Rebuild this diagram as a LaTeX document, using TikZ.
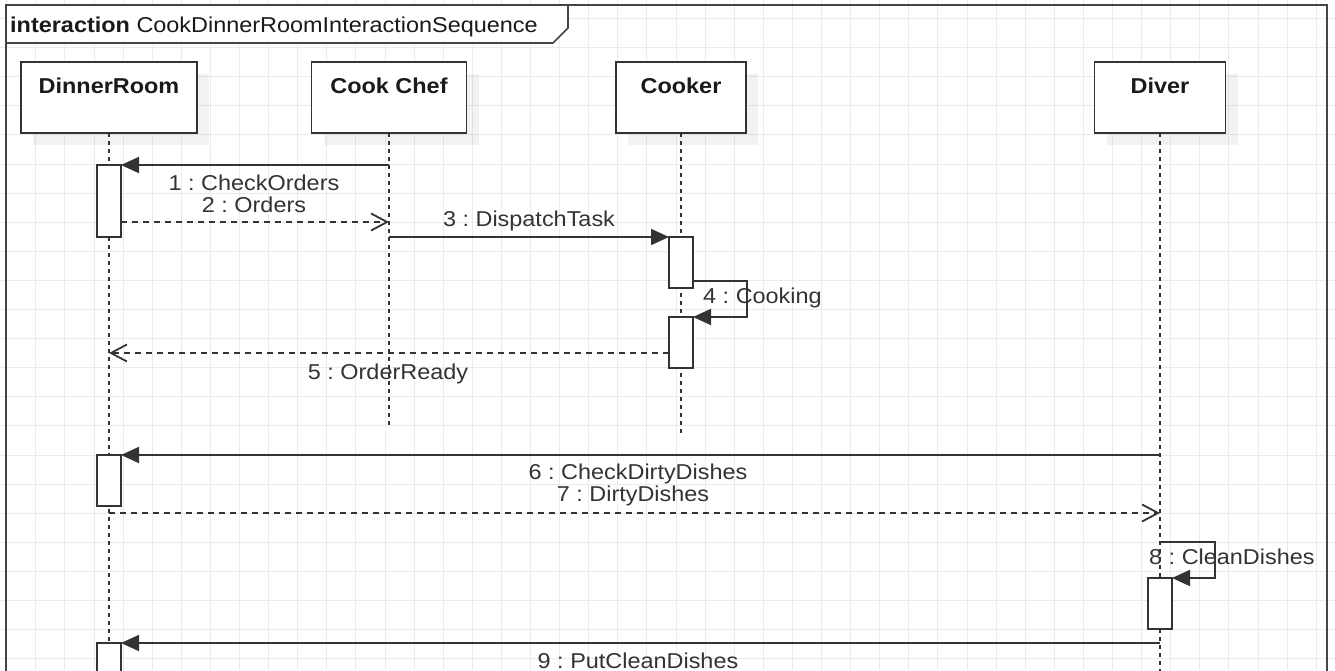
\documentclass[tikz,border=0pt]{standalone}
\usepackage{fontspec}
\setmainfont{Liberation Sans}[FakeStretch=1.09]
\usetikzlibrary{arrows.meta,shadows}
\frenchspacing
\definecolor{ln}{HTML}{333333}
\definecolor{gridc}{HTML}{EBEBEB}
\definecolor{frm}{HTML}{444444}
\definecolor{txt}{HTML}{333333}
\definecolor{htxt}{HTML}{1A1A1A}
\begin{document}
\begin{tikzpicture}[x=1pt,y=-1pt,
  headbox/.style={draw=ln, line width=1.8pt, fill=white, minimum width=#1, minimum height=71pt, inner sep=0pt, outer sep=0pt,
    drop shadow={shadow xshift=12pt, shadow yshift=-12pt, opacity=0.05, fill=black}},
  headtxt/.style={font=\fontsize{21.5}{26}\selectfont\bfseries, text=htxt, inner sep=0pt, anchor=base},
  lifeln/.style={draw=ln, line width=1.8pt, dash pattern=on 4pt off 4pt},
  actbox/.style={draw=ln, line width=1.8pt, fill=white, minimum width=24pt, minimum height=#1, inner sep=0pt, outer sep=0pt},
  msgcall/.style={draw=ln, line width=1.8pt, -{Triangle[length=18pt,width=16pt]}},
  msgret/.style={draw=ln, line width=1.8pt, dash pattern=on 6pt off 5pt, -{Straight Barb[length=16pt,width=17pt,line width=1.8pt]}},
  lbl/.style={font=\fontsize{21.5}{26}\selectfont, text=txt, inner sep=0pt, anchor=base}
]
\useasboundingbox (0,0) rectangle (1335,670);
\fill[white] (0,0) rectangle (1335,670);
% grid
\foreach \i in {0,...,45} \draw[gridc, line width=1pt] ({6.7+29.1*\i},0) -- ({6.7+29.1*\i},670);
\foreach \j in {0,...,22} \draw[gridc, line width=1pt] (0,{18.5+29.1*\j}) -- (1335,{18.5+29.1*\j});
% frame
\draw[frm, line width=2.6pt] (6,690) -- (6,5) -- (1327,5) -- (1327,690);
\filldraw[fill=white, draw=frm, line width=1.6pt] (6,5) -- (568,5) -- (568,28) -- (553,43) -- (6,43) -- cycle;
\node[font=\fontsize{21.5}{26}\selectfont, text=htxt, inner sep=0pt, anchor=base west] (title) at (10,32) {\textbf{interaction} CookDinnerRoomInteractionSequence};

% lifeline ends
\coordinate (drend) at (109,690);
\coordinate (ccend) at (389,425);
\coordinate (ckend) at (681,435);
\coordinate (dvend) at (1160,690);

% headers
\node[headbox=176pt] (dr) at (109,97.5) {};
\node[headbox=155pt] (cc) at (389,97.5) {};
\node[headbox=130pt] (ck) at (681,97.5) {};
\node[headbox=131pt] (dv) at (1160,97.5) {};
\node[headtxt] (drt) at (109,93) {DinnerRoom};
\node[headtxt] (cct) at (389,93) {Cook Chef};
\node[headtxt] (ckt) at (681,93) {Cooker};
\node[headtxt] (dvt) at (1160,93) {Diver};

% lifelines
\draw[lifeln] (dr.south) -- (drend);
\draw[lifeln] (cc.south) -- (ccend);
\draw[lifeln] (ck.south) -- (ckend);
\draw[lifeln] (dv.south) -- (dvend);

% activations
\node[actbox=72pt] (a1) at (109,201) {};
\node[actbox=51pt] (c1) at (681,262.5) {};
\node[actbox=51pt] (c2) at (681,342.5) {};
\node[actbox=51pt] (a2) at (109,480.5) {};
\node[actbox=51pt] (d1) at (1160,603.5) {};
\node[actbox=51pt] (a3) at (109,668.5) {};

% message coordinates
\coordinate (m1s) at (389,165);
\coordinate (m2s) at (121,222);
\coordinate (m2e) at (389,222);
\coordinate (m3s) at (389,237);
\coordinate (m4s) at (693,281);
\coordinate (m4c) at (747,317);
\coordinate (m5s) at (669,353);
\coordinate (m5e) at (109,353);
\coordinate (m6s) at (1160,455);
\coordinate (m7s) at (109,513);
\coordinate (m7e) at (1160,513);
\coordinate (m8s) at (1160,542);
\coordinate (m8c) at (1215,578);
\coordinate (m9s) at (1160,643);

% messages
\draw[msgcall] (m1s) -- (a1.north east);
\draw[msgret] (m2s) -- (m2e);
\draw[msgcall] (m3s) -- (c1.north west);
\draw[msgcall] (m4s) -| (m4c) -- (c2.north east);
\draw[msgret] (m5s) -- (m5e);
\draw[msgcall] (m6s) -- (a2.north east);
\draw[msgret] (m7s) -- (m7e);
\draw[msgcall] (m8s) -| (m8c) -- (d1.north east);
\draw[msgcall] (m9s) -- (a3.north east);

% labels
\node[lbl] (l1) at (254,190) {1 : CheckOrders};
\node[lbl] (l2) at (254,212) {2 : Orders};
\node[lbl] (l3) at (529,226) {3 : DispatchTask};
\node[lbl, anchor=base west] (l4) at (703,303) {4 : Cooking};
\node[lbl] (l5) at (388,379) {5 : OrderReady};
\node[lbl] (l6) at (638,479) {6 : CheckDirtyDishes};
\node[lbl] (l7) at (633,501) {7 : DirtyDishes};
\node[lbl, anchor=base west] (l8) at (1149,564) {8 : CleanDishes};
\node[lbl] (l9) at (638,668) {9 : PutCleanDishes};
\end{tikzpicture}
\end{document}
